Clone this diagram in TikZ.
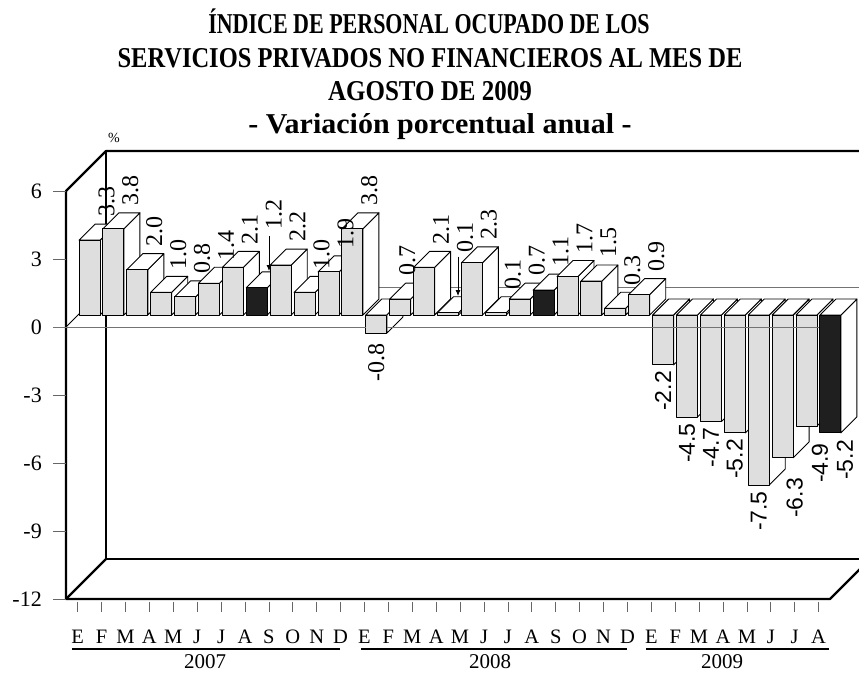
\documentclass[tikz,border=0pt]{standalone}
\usepackage{fontspec}
\setmainfont{Liberation Serif}
\newfontfamily\arialf{Liberation Sans}
\usetikzlibrary{arrows.meta}
\tikzset{
  wall/.style={line width=2.2pt, black, line cap=round, line join=round},
  barface/.style={draw=black, line width=0.9pt, fill=white, line join=round},
  frontlight/.style={barface, fill=black!13},
  frontdark/.style={barface, fill=black!88},
  zeroline/.style={draw=black!55, line width=1pt},
  tickline/.style={draw=black!60, line width=0.8pt},
  vlab/.style={font=\fontsize{24}{24}\selectfont, rotate=90, inner sep=0pt},
  vlabs/.style={font=\arialf\fontsize{23}{23}\selectfont, rotate=90, inner sep=0pt},
  ylab/.style={font=\fontsize{22}{22}\selectfont, anchor=east, inner sep=0pt},
  month/.style={font=\fontsize{20.5}{20.5}\selectfont, anchor=base, inner sep=0pt},
  yearlab/.style={font=\fontsize{21}{21}\selectfont, anchor=base, inner sep=0pt},
  yearline/.style={line width=1.8pt},
  titl/.style={font=\bfseries\fontsize{25}{25}\selectfont, anchor=base, inner sep=0pt, yscale=1.15},
  pointer/.style={line width=0.8pt, -{Latex[length=6pt,width=5pt]}}
}
\begin{document}
\begin{tikzpicture}[x=1pt,y=-1pt]
\useasboundingbox (0,0) rectangle (859,673);
\clip (0,0) rectangle (859,673);

% title
\node[titl, xscale=0.88] (t1) at (429,33) {ÍNDICE DE PERSONAL OCUPADO DE LOS};
\node[titl, xscale=0.98] (t2) at (430,67) {SERVICIOS PRIVADOS NO FINANCIEROS AL MES DE};
\node[titl] (t3) at (430,100) {AGOSTO DE 2009};
\node[titl, xscale=1.2] (t4) at (440,133) {- Variación porcentual anual -};
\node[font=\fontsize{14}{14}\selectfont, inner sep=0pt] (pct) at (114,138) {\%};

% walls
\draw[wall] (66,191) -- (106,151) -- (880,151);
\draw[wall] (106,151) -- (106,559) -- (880,559);
\draw[wall] (66,599) -- (106,559);
\draw[wall] (66,191) -- (66,599) -- (830,599) -- (870,559);

% y ticks and labels
\foreach \v/\yy in {6/191,3/259,0/327,-3/395,-6/463,-9/531,-12/599}{
  \draw[tickline] (53,\yy) -- (66,\yy);
  \node[ylab] (y\v) at (42,\yy) {\v};
}

% zero plane (back and left)
\draw[zeroline] (106,287) -- (880,287);
\draw[black, line width=0.9pt] (66,327) -- (106,287);

\def\barlist{3.3/0/0,3.8/0/0,2.0/0/0,1.0/0/0,0.8/0/0,1.4/0/0,2.1/0/0,1.2/0/-35,2.2/0/0,1.0/0/0,1.9/0/0,3.8/0/0,-0.8/0/4,0.7/-10/0,2.1/0/0,0.1/0/-37,2.3/0/0,0.1/0/0,0.7/0/0,1.1/0/0,1.7/0/0,1.5/0/0,0.3/0/0,0.9/0/0,-2.2/0/0,-4.5/0/0,-4.7/0/0,-5.2/0/0,-7.5/0/0,-6.3/12/14,-4.9/13.5/11,-5.2/14.6/1}

% bars
\foreach \v/\ox/\oy [count=\i from 0] in \barlist {
  \pgfmathsetmacro\xo{79+23.9*\i}
  \pgfmathsetmacro\yt{315-22.67*\v}
  \pgfmathsetmacro\ya{min(315,\yt)}
  \pgfmathsetmacro\yb{max(315,\yt)}
  \pgfmathsetmacro\xr{\xo+21}
  \pgfmathsetmacro\xc{\xo+10.5}
  \ifnum\i=7 \def\fs{frontdark}\else\ifnum\i=19 \def\fs{frontdark}\else\ifnum\i=31 \def\fs{frontdark}\else\def\fs{frontlight}\fi\fi\fi
  \draw[barface] (\xr,\ya) -- ++(16,-16) -- ({\xr+16},{\yb-16}) -- (\xr,\yb) -- cycle;
  \draw[barface] (\xo,\ya) -- ++(16,-16) -- ++(21,0) -- ++(-16,16) -- cycle;
  \draw[\fs] (\xo,\ya) rectangle (\xr,\yb);
}

% zero plane front line (over the negative bars)
\draw[zeroline] (53,327) -- (366,327);
\draw[zeroline] (387,327) -- (819,327);

% value labels
\foreach \v/\ox/\oy [count=\i from 0] in \barlist {
  \pgfmathsetmacro\xo{79+23.9*\i}
  \pgfmathsetmacro\yt{315-22.67*\v}
  \pgfmathsetmacro\ya{min(315,\yt)}
  \pgfmathsetmacro\yb{max(315,\yt)}
  \pgfmathsetmacro\xc{\xo+10.5}
  \ifnum\i<24
    \ifdim\v pt<0pt
      \node[vlab, anchor=east] (lab\i) at ({\xc+\ox},{\yb+6+\oy}) {\v};
    \else
      \node[vlab, anchor=west] (lab\i) at ({\xc+17+\ox},{\ya-23+\oy}) {\v};
    \fi
  \else
    \node[vlabs, anchor=east] (lab\i) at ({\xc+\ox},{\yb+6+\oy}) {\v};
  \fi
}

% pointers from lifted labels
\coordinate (tip7) at (269,271);
\coordinate (tip15) at (458,296);
\draw[pointer] (lab7.west -| tip7) ++(0,6) -- (tip7);
\draw[pointer] (lab15.west -| tip15) ++(0,4) -- (tip15);

% x ticks and month labels
\foreach \m [count=\i from 0] in {E,F,M,A,M,J,J,A,S,O,N,D,E,F,M,A,M,J,J,A,S,O,N,D,E,F,M,A,M,J,J,A}{
  \draw[tickline] ({77.7+23.9*\i},602) -- ++(0,10);
  \node[month] (m\i) at ({77.7+23.9*\i},643) {\m};
}

% years
\draw[yearline] (72,649) -- (340,649);
\draw[yearline] (361,649) -- (627,649);
\draw[yearline] (646,649) -- (829,649);
\node[yearlab] (y2007) at (205,668) {2007};
\node[yearlab] (y2008) at (490,668) {2008};
\node[yearlab] (y2009) at (722,668) {2009};
\end{tikzpicture}
\end{document}
